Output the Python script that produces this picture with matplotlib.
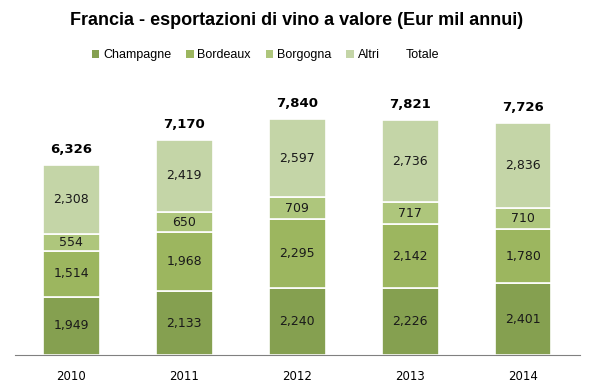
import numpy as np
import matplotlib.pyplot as plt
from matplotlib.patches import Patch

years = ['2010', '2011', '2012', '2013', '2014']
champagne = [1949, 2133, 2240, 2226, 2401]
bordeaux = [1514, 1968, 2295, 2142, 1780]
borgogna = [554, 650, 709, 717, 710]
altri = [2308, 2419, 2597, 2736, 2836]
totale = [6326, 7170, 7840, 7821, 7726]

series = [('Champagne', champagne, '#85A050'),
          ('Bordeaux', bordeaux, '#9CB65F'),
          ('Borgogna', borgogna, '#AEC67C'),
          ('Altri', altri, '#C4D5A7')]

narrow = ['Liberation Sans', 'DejaVu Sans']

fig = plt.figure(figsize=(5.94, 3.89), dpi=100)
ax = fig.add_axes([0.025, 0.087, 0.951, 0.669])

x = np.arange(len(years))
bottom = np.zeros(len(years))
handles = []
for name, vals, col in series:
    vals = np.array(vals)
    ax.bar(x, vals, 0.5, bottom=bottom, color=col, edgecolor='white', linewidth=1.2)
    for xi, b, v in zip(x, bottom, vals):
        ax.text(xi, b + v / 2, f'{v:,}', ha='center', va='center', fontsize=9,
                color='#1a1a1a')
    bottom += vals
    handles.append(Patch(facecolor=col, edgecolor='none', label=name))

for xi, t in zip(x, totale):
    ax.text(xi, t + 300, f'{t:,}', ha='center', va='bottom', fontsize=9.5,
            fontweight='bold', color='black')

handles.append(Patch(facecolor='none', edgecolor='none', label='Totale'))

ax.set_xlim(-0.5, 4.5)
ax.set_ylim(0, 8656)
ax.set_xticks(x)
ax.set_xticklabels(years, fontsize=8.5)
ax.tick_params(axis='x', length=0, pad=11)
ax.set_yticks([])
for s in ['top', 'right', 'left']:
    ax.spines[s].set_visible(False)
ax.spines['bottom'].set_color('#808080')

fig.text(0.5, 0.948, 'Francia - esportazioni di vino a valore (Eur mil annui)',
         ha='center', va='center', fontsize=13, fontweight='bold', family=narrow)
fig.legend(handles=handles, loc='center', bbox_to_anchor=(0.447, 0.858), ncol=5,
           frameon=False, handlelength=0.6, handleheight=0.6, handletextpad=0.3,
           columnspacing=1.2, prop={'family': narrow, 'size': 9})

fig.savefig('out.png', dpi=100, facecolor='white')
